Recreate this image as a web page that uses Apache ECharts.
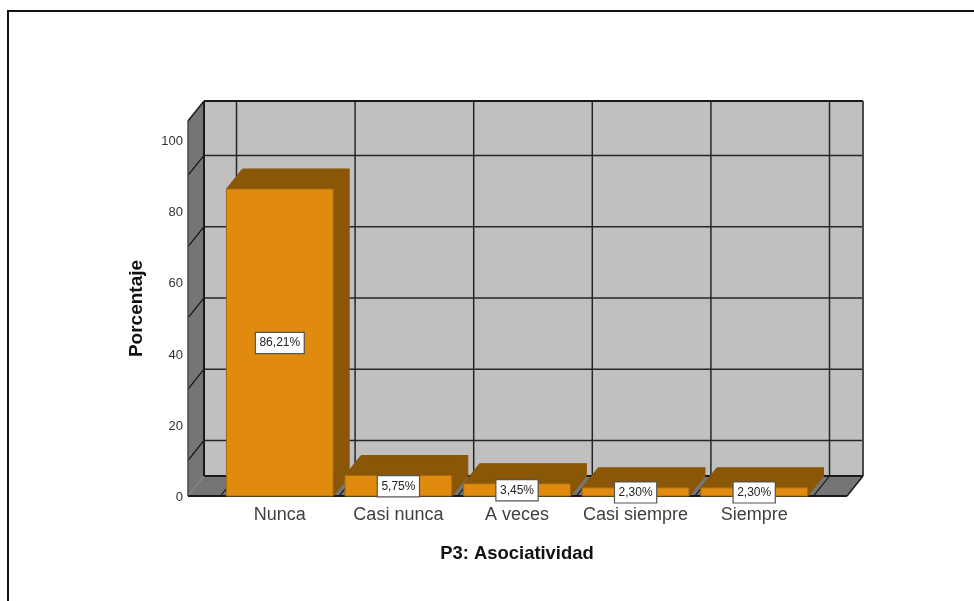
<!DOCTYPE html>
<html>
<head>
<meta charset="utf-8">
<style>html,body{margin:0;padding:0;background:#fff}#c{width:974px;height:601px}</style>
<script src="https://cdn.jsdelivr.net/npm/echarts@6/dist/echarts.min.js"></script>
</head>
<body>
<div id="c"></div>
<script>
const categories = ['Nunca', 'Casi nunca', 'A veces', 'Casi siempre', 'Siempre'];
const percentages = [86.21, 5.75, 3.45, 2.30, 2.30];
const wallLineLevels = [10, 30, 50, 70, 90];
const xAxisTitle = 'P3: Asociatividad';
const yAxisTitle = 'Porcentaje';

const FONT = '"Liberation Sans", Arial, sans-serif';
const DEPTH_X = 16, DEPTH_Y = 20, SIDE_PAD = 32.5, SIDE_PAD_R = 33.5;
const AXIS_MAX = 105.3;
const LINE = '#262626', WALL = '#c0c0c0', SHADE = '#757575';
const BAR_FRONT = '#e08a0e', BAR_DARK = '#8a5707', BAR_EDGE = '#a46a12';

function poly(points, fill, stroke, lw) {
  return { type: 'polygon', shape: { points }, style: { fill, stroke: stroke || null, lineWidth: lw || 0 } };
}
function seg(x1, y1, x2, y2, stroke, lw) {
  return { type: 'line', shape: { x1, y1, x2, y2 }, style: { stroke: stroke || LINE, lineWidth: lw || 1.5 } };
}

function renderWalls(params, api) {
  const cs = params.coordSys;
  const band = api.size([1, 0])[0];
  const L = cs.x - SIDE_PAD, R = cs.x + cs.width + SIDE_PAD_R;
  const y0 = api.coord([0, 0])[1], yTop = api.coord([0, AXIS_MAX])[1];
  const dx = DEPTH_X, dy = DEPTH_Y;
  const kids = [
    poly([[L + dx, yTop - dy], [R + dx, yTop - dy], [R + dx, y0 - dy], [L + dx, y0 - dy]], WALL),
    poly([[L, yTop], [L + dx, yTop - dy], [L + dx, y0 - dy], [L, y0]], SHADE),
    poly([[L, y0], [L + dx, y0 - dy], [R + dx, y0 - dy], [R, y0]], SHADE)
  ];
  wallLineLevels.forEach(function (v) {
    const y = api.coord([0, v])[1];
    kids.push(seg(L + dx, y - dy, R + dx, y - dy));
    kids.push(seg(L, y, L + dx, y - dy, '#111', 1.2));
  });
  for (let i = 0; i <= categories.length; i++) {
    const x = cs.x + i * band;
    kids.push(seg(x + dx, yTop - dy, x + dx, y0 - dy));
    kids.push(seg(x, y0, x + dx, y0 - dy, '#111', 1.2));
  }
  kids.push(seg(L + dx, yTop - dy, R + dx, yTop - dy, '#1a1a1a', 2));
  kids.push(seg(L + dx, yTop - dy, L + dx, y0 - dy, '#1a1a1a', 2));
  kids.push(seg(R + dx, yTop - dy, R + dx, y0 - dy, '#4a4a4a', 2));
  kids.push(seg(L + dx, y0 - dy, R + dx, y0 - dy, '#1a1a1a', 2));
  kids.push(seg(L, yTop, L + dx, yTop - dy, '#1a1a1a', 1.5));
  kids.push(seg(L, yTop, L, y0, '#4a4a4a', 1.5));
  kids.push(seg(R, y0, R + dx, y0 - dy, '#1a1a1a', 1.5));
  kids.push(seg(L, y0, R, y0, '#1a1a1a', 2));
  return { type: 'group', children: kids };
}

function renderBar(params, api) {
  const idx = api.value(0), val = api.value(1);
  const c = api.coord([idx, val]), b = api.coord([idx, 0]);
  const w = api.size([1, 0])[0] * 0.9;
  const l = c[0] - w / 2, r = c[0] + w / 2, t = c[1], y0 = b[1];
  const dx = DEPTH_X, dy = DEPTH_Y;
  const text = val.toFixed(2).replace('.', ',') + '%';
  return {
    type: 'group',
    children: [
      poly([[r, t], [r + dx, t - dy], [r + dx, y0 - dy], [r, y0]], BAR_DARK, BAR_DARK, 1),
      poly([[l, t], [l + dx, t - dy], [r + dx, t - dy], [r, t]], BAR_DARK, BAR_DARK, 1),
      poly([[l, t], [r, t], [r, y0], [l, y0]], BAR_FRONT, BAR_EDGE, 1),
      {
        type: 'text',
        style: {
          text, x: c[0], y: (t + y0) / 2 + 0.5, align: 'center', verticalAlign: 'middle',
          font: '12px ' + FONT, fill: '#222', backgroundColor: '#fff',
          borderColor: '#555', borderWidth: 1.2, padding: [4, 3.5, 4, 3.5]
        }
      }
    ]
  };
}

const chart = echarts.init(document.getElementById('c'), null, { renderer: 'canvas' });
chart.setOption({
  animation: false,
  backgroundColor: '#fff',
  grid: { left: 220.5, width: 593, top: 121, height: 375, containLabel: false },
  xAxis: {
    type: 'category', data: categories,
    axisLine: { show: false }, axisTick: { show: false }, splitLine: { show: false },
    axisLabel: { fontFamily: FONT, fontSize: 18, color: '#404040', margin: 10, interval: 0 },
    name: xAxisTitle, nameLocation: 'middle', nameGap: 49,
    nameTextStyle: { fontFamily: FONT, fontSize: 18.4, fontWeight: 'bold', color: '#111' }
  },
  yAxis: {
    type: 'value', min: 0, max: AXIS_MAX, interval: 20, offset: SIDE_PAD,
    axisLine: { show: false }, axisTick: { show: false }, splitLine: { show: false },
    axisLabel: { fontFamily: FONT, fontSize: 13, color: '#333', margin: 5, showMaxLabel: false, verticalAlign: 'top', lineHeight: 3 },
    name: yAxisTitle, nameLocation: 'middle', nameGap: 42, nameRotate: 90,
    nameTextStyle: { fontFamily: FONT, fontSize: 19, fontWeight: 'bold', color: '#111' }
  },
  graphic: [
    { type: 'line', silent: true, z: 0, shape: { x1: 8, y1: 11, x2: 974, y2: 11 }, style: { stroke: '#111', lineWidth: 2 } },
    { type: 'line', silent: true, z: 0, shape: { x1: 8, y1: 10, x2: 8, y2: 601 }, style: { stroke: '#111', lineWidth: 2 } }
  ],
  series: [
    { type: 'custom', name: 'walls', coordinateSystem: 'cartesian2d', clip: false, silent: true, z: 1,
      data: [[0, 0]], renderItem: renderWalls },
    { type: 'custom', name: 'Porcentaje', coordinateSystem: 'cartesian2d', clip: false, silent: true, z: 2,
      encode: { x: 0, y: 1 },
      data: percentages.map(function (v, i) { return [i, v]; }), renderItem: renderBar }
  ]
});
</script>
</body>
</html>
